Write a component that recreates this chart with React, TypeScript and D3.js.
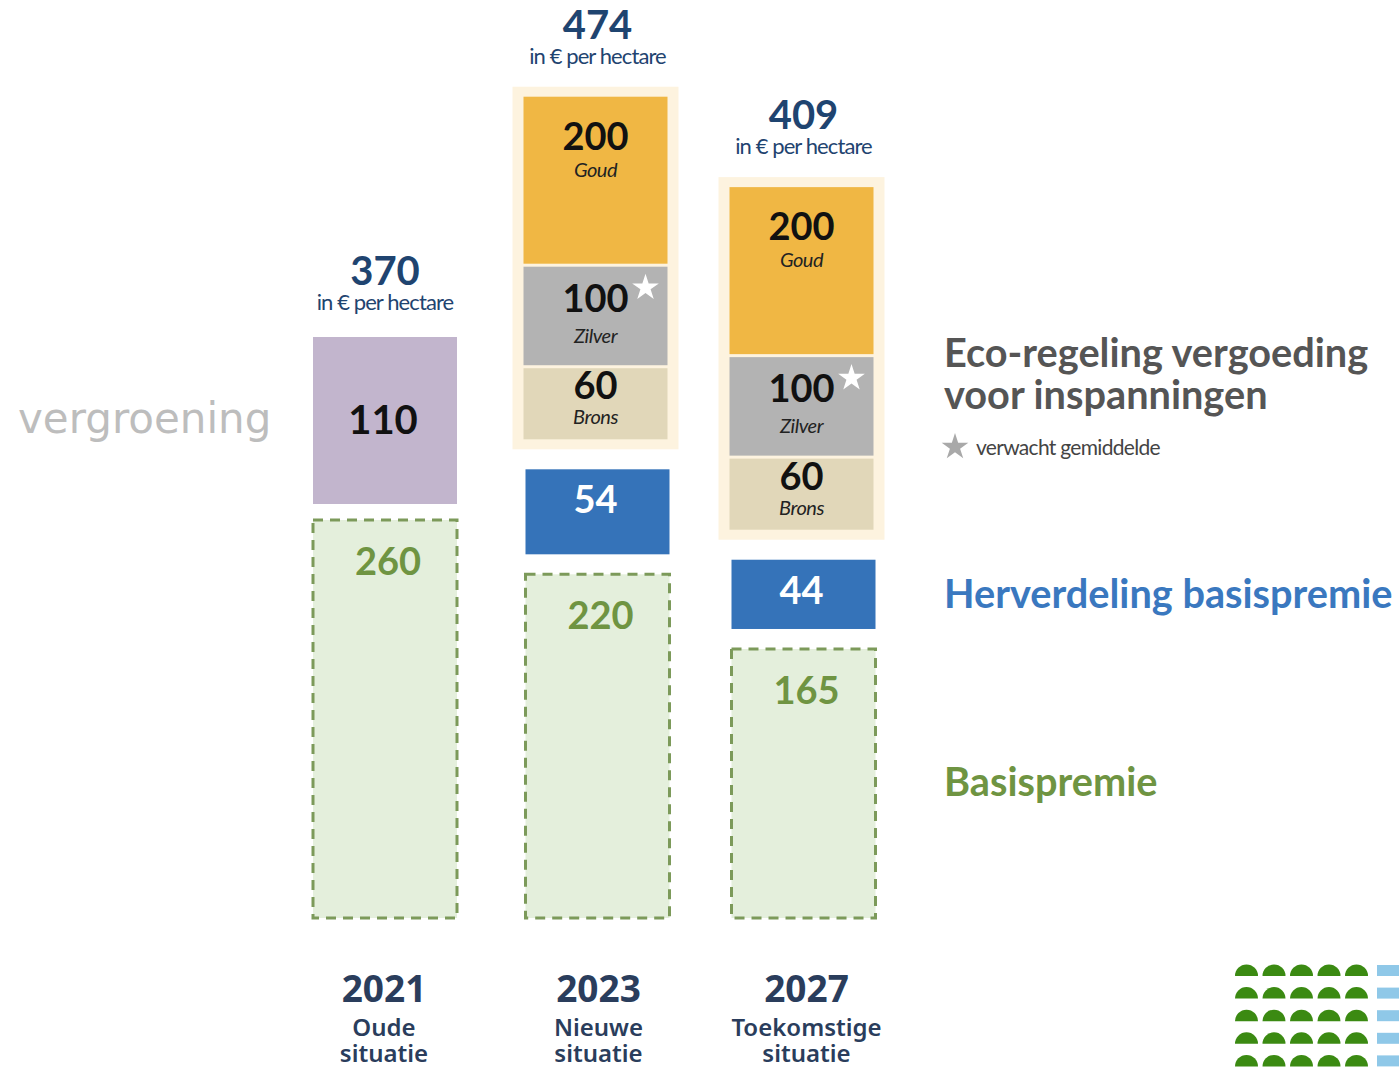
import * as d3 from "d3";

const years = ["2021", "2023", "2027"];
const situations = [["Oude", "situatie"], ["Nieuwe", "situatie"], ["Toekomstige", "situatie"]];
const totals = [370, 474, 409];
const basis = [260, 220, 165];
const vergroening = [110, null, null];
const herverdeling = [null, 54, 44];
const goud = [null, 200, 200];
const zilver = [null, 100, 100];
const brons = [null, 60, 60];
const ecoLabels = ["Goud", "Zilver", "Brons"];

const W = 1399;
const H = 1070;
const barW = 144;
const baseY = 918;
const gap = 20;
const pad = 10;
const innerGap = 3;

const navy = "#1f4470";
const FONT = "Lato, 'Noto Sans', sans-serif";
const SANS = "'Noto Sans', 'DejaVu Sans', sans-serif";

// the infographic is not drawn to one scale, every layer has its own
const x = d3.scaleOrdinal<string, number>().domain(years).range([385, 597.5, 803.5]);
const basisH = d3.scaleLinear().domain([0, 260]).range([45, 398]);
const vergroeningH = d3.scaleLinear().domain([0, 110]).range([0, 167]);
const herverdelingH = d3.scaleLinear().domain([0, 54]).range([0, 85]);
const ecoH = d3.scaleLinear().domain([0, 200]).range([30, 167]);

const star = (r: number) => d3.symbol().type(d3.symbolStar).size((r * r) / 0.89)()!;
const halfDisc = d3.arc()({ innerRadius: 0, outerRadius: 11.5, startAngle: -Math.PI / 2, endAngle: Math.PI / 2 } as any)!;

function Column({ i }: { i: number }) {
  const cx = x(years[i]);
  const left = cx - barW / 2;
  let y = baseY;
  const parts: any[] = [];

  const bh = basisH(basis[i]);
  parts.push(
    <g key="basis">
      <rect x={left} y={y - bh} width={barW} height={bh} fill="#e4efdc" stroke="#7c9a5a" strokeWidth={3} strokeDasharray="10 7" />
      <text x={cx + 3} y={y - bh + 55} textAnchor="middle" fontFamily={FONT} fontSize={38} fontWeight={700} fill="#6f9442">{basis[i]}</text>
    </g>
  );
  y = y - bh - gap;

  let top = y;
  const v = vergroening[i];
  if (v != null) {
    y += 4;
    const h = vergroeningH(v);
    parts.push(
      <g key="verg">
        <rect x={left} y={y - h} width={barW} height={h} fill="#c2b5cd" />
        <text x={cx - 2} y={y - h / 2 + 13} textAnchor="middle" fontFamily={FONT} fontSize={40} fontWeight={700} fill="#111">{v}</text>
      </g>
    );
    top = y - h;
  }

  const hv = herverdeling[i];
  if (hv != null) {
    const h = herverdelingH(hv);
    parts.push(
      <g key="herv">
        <rect x={left} y={y - h} width={barW} height={h} fill="#3573b9" />
        <text x={cx - 2} y={y - h + 44} textAnchor="middle" fontFamily={FONT} fontSize={38} fontWeight={700} fill="#fff">{hv}</text>
      </g>
    );
    y = y - h - gap;

    // eco-regeling block in a cream container
    const segs = [brons[i]!, zilver[i]!, goud[i]!];
    const fills = ["#e1d7b9", "#b3b3b3", "#f0b744"];
    const labels = [ecoLabels[2], ecoLabels[1], ecoLabels[0]];
    const numOff = [31, 45, 53];
    const lblOff = [56, 76, 80];
    const contBottom = y;
    let sy = y - pad;
    const rects: any[] = [];
    segs.forEach((s, k) => {
      const h = ecoH(s);
      const t = sy - h;
      rects.push(
        <g key={k}>
          <rect x={left - 2} y={t} width={barW} height={h} fill={fills[k]} />
          <text x={cx - 2} y={t + numOff[k]} textAnchor="middle" fontFamily={FONT} fontSize={38} fontWeight={700} fill="#111">{s}</text>
          <text x={cx - 2} y={t + lblOff[k]} textAnchor="middle" fontFamily={FONT} fontSize={20} fontStyle="italic" fill="#222" letterSpacing={-0.5}>{labels[k]}</text>
          {k === 1 && <path d={star(14)} transform={`translate(${left + barW - 24},${t + 21})`} fill="#fff" />}
        </g>
      );
      sy = t - innerGap;
    });
    const contTop = sy + innerGap - pad;
    parts.push(
      <g key="eco">
        <rect x={left - 13} y={contTop} width={barW + 22} height={contBottom - contTop} fill="#fdf3df" />
        {rects}
      </g>
    );
    top = contTop + 4;
  }

  return (
    <g>
      {parts}
      <text x={cx} y={top - 52} textAnchor="middle" fontFamily={FONT} fontSize={40} fontWeight={700} fill={navy}>{totals[i]}</text>
      <text x={cx} y={top - 27} textAnchor="middle" fontFamily={FONT} fontSize={22} fill={navy} letterSpacing={-0.9}>in € per hectare</text>
      <text x={cx + 2 * i - 1} y={1002} textAnchor="middle" fontFamily={SANS} fontSize={37} fontWeight={700} fill="#2a3d5c">{years[i]}</text>
      <text x={cx + 2 * i - 1} y={1036} textAnchor="middle" fontFamily={SANS} fontSize={24} fontWeight={600} fill="#2a3d5c">{situations[i][0]}</text>
      <text x={cx + 2 * i - 1} y={1062} textAnchor="middle" fontFamily={SANS} fontSize={24} fontWeight={600} fill="#2a3d5c">{situations[i][1]}</text>
    </g>
  );
}

export default function App() {
  const rows = d3.range(5);
  const cols = d3.range(5);
  return (
    <svg width={W} height={H} style={{ position: "absolute", left: 0, top: 0, background: "#fff" }}>
      <rect width={W} height={H} fill="#fff" />
      <text x={18} y={433} fontFamily="'DejaVu Sans', sans-serif" fontSize={42} fill="#bdbdbd">vergroening</text>
      {years.map((_, i) => <Column key={i} i={i} />)}

      <text x={944} y={367} fontFamily={FONT} fontSize={39.7} fontWeight={700} fill="#555">Eco-regeling vergoeding</text>
      <text x={944} y={409} fontFamily={FONT} fontSize={39.7} fontWeight={700} fill="#555">voor inspanningen</text>
      <path d={star(14)} transform="translate(955,447)" fill="#a9a9a9" />
      <text x={976} y={455} fontFamily={FONT} fontSize={21} fill="#444" letterSpacing={-0.7}>verwacht gemiddelde</text>
      <text x={944} y={608} fontFamily={FONT} fontSize={39.7} fontWeight={700} fill="#3a78bf">Herverdeling basispremie</text>
      <text x={944} y={796} fontFamily={FONT} fontSize={39.7} fontWeight={700} fill="#6f9442">Basispremie</text>

      <g>
        {rows.map((r) => (
          <g key={r}>
            {cols.map((c) => (
              <path key={c} d={halfDisc} transform={`translate(${1246.5 + 27.5 * c},${976 + 22.6 * r})`} fill="#3b8a12" />
            ))}
            <rect x={1377} y={965 + 22.6 * r} width={24} height={11} fill="#8fc8e8" />
          </g>
        ))}
      </g>
    </svg>
  );
}
